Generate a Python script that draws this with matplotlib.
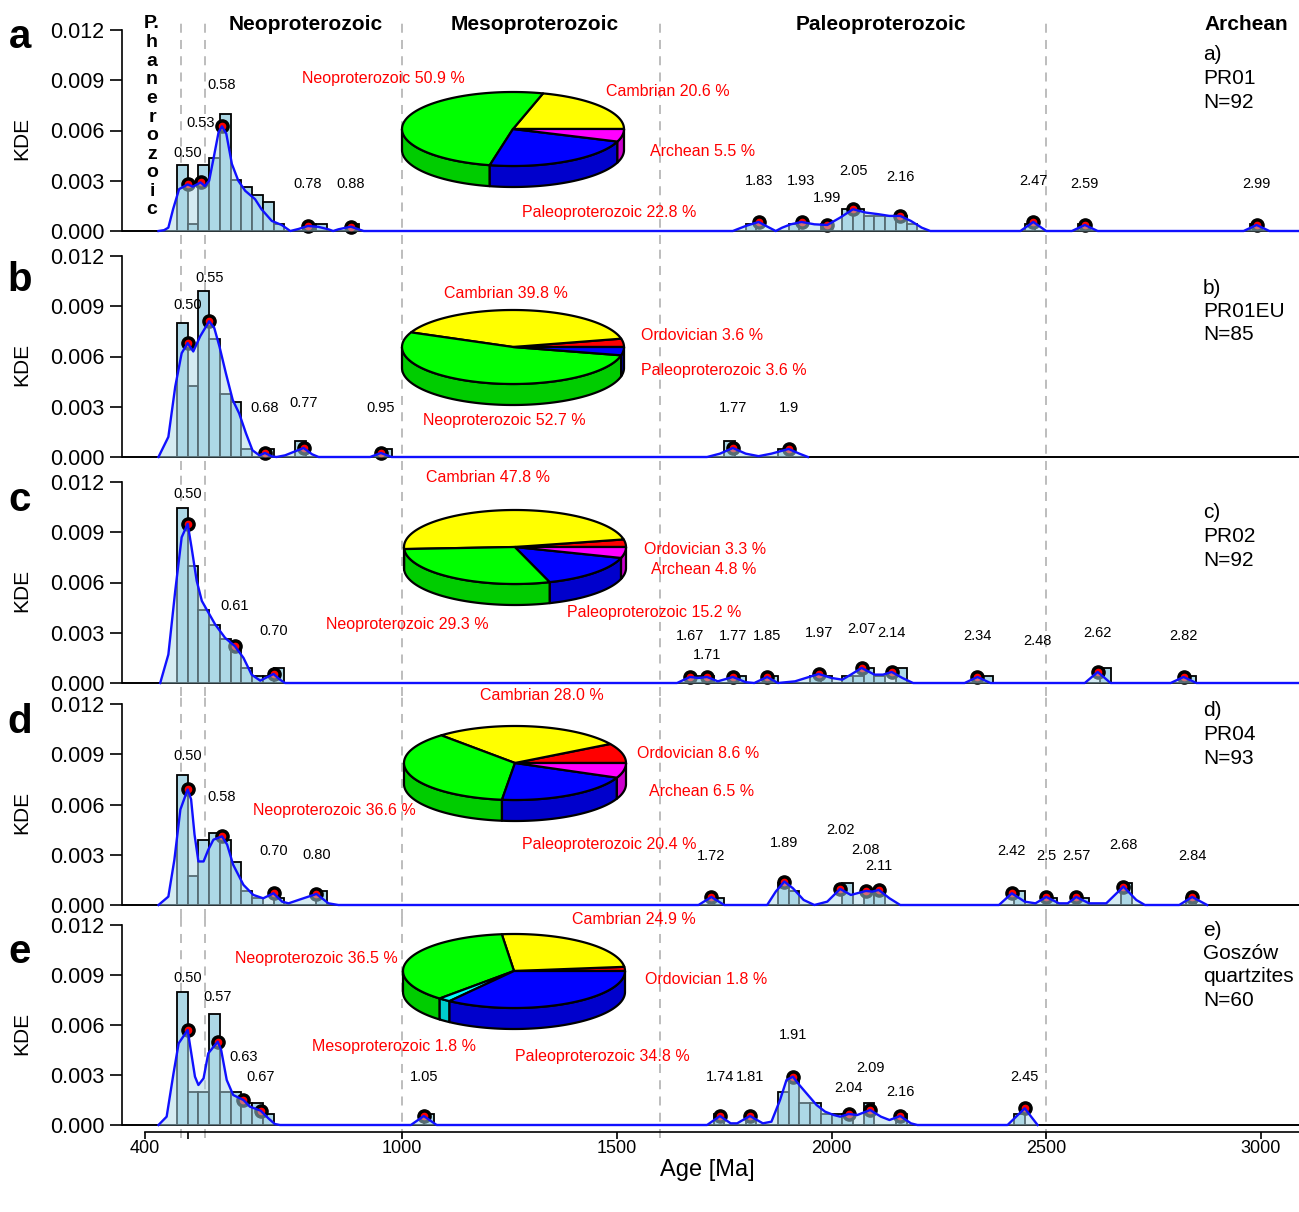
import numpy as np
import matplotlib.pyplot as plt
from matplotlib.patches import Polygon

plt.rcParams['font.family'] = ['Liberation Sans', 'DejaVu Sans']

W, H = 1299, 1212
BW = 25  # histogram bin width (Ma)

# ---------------- panel a : PR01 ----------------
n_a = 92
bins_a = [475, 500, 525, 550, 575, 600, 625, 650, 675, 700, 775, 800, 875,
          1800, 1900, 1975, 2025, 2050, 2075, 2100, 2125, 2150, 2175, 2450, 2575, 2975]
counts_a = [9, 1, 9, 10, 16, 7, 6, 5, 4, 1, 1, 1, 1,
            1, 1, 1, 3, 3, 2, 2, 2, 2, 1, 1, 1, 1]
kde_age_a = [432, 445, 455, 466, 480, 500, 512, 530, 540, 550, 560, 572, 580, 590, 603, 618,
             634, 657, 672, 696, 719, 739, 758, 780, 804, 828, 839, 851, 880, 898, 910,
             1770, 1800, 1830, 1855, 1870, 1885, 1905, 1930, 1960, 1990, 2020, 2050, 2080,
             2110, 2135, 2160, 2185, 2210, 2230, 2440, 2470, 2500, 2560, 2590, 2620,
             2960, 2990, 3020, 3090]
kde_val_a = [0, 0.00005, 0.0002, 0.0013, 0.0025, 0.00278, 0.00265, 0.0029, 0.00268, 0.003,
             0.0043, 0.0059, 0.00625, 0.0058, 0.0040, 0.003, 0.0024, 0.0019, 0.0013, 0.0006,
             0.00036, 0, 0.00012, 0.0003, 0.00025, 0.0001, 0, 0.0001, 0.00026, 0.0001, 0,
             0, 0.0003, 0.00054, 0.0002, 0, 0.0002, 0.0004, 0.00054, 0.0004, 0.00036, 0.0008,
             0.0013, 0.0011, 0.001, 0.0009, 0.0009, 0.0006, 0.0002, 0, 0, 0.00054, 0,
             0, 0.00036, 0, 0, 0.00036, 0, 0]
peak_age_a = [500, 530, 580, 780, 880, 1830, 1930, 1990, 2050, 2160, 2470, 2590, 2990]
peak_kde_a = [0.00278, 0.0029, 0.00625, 0.0003, 0.00026, 0.00054, 0.00054, 0.00036,
              0.0013, 0.0009, 0.00054, 0.00036, 0.00036]
peak_txt_a = ['0.50', '0.53', '0.58', '0.78', '0.88', '1.83', '1.93', '1.99', '2.05',
              '2.16', '2.47', '2.59', '2.99']
peak_lbl_a = [0.00466, 0.00645, 0.0087, 0.0028, 0.0028, 0.003, 0.003, 0.002, 0.0036,
              0.0032, 0.003, 0.0028, 0.0028]
# order: Ordovician, Cambrian, Neoproterozoic, Mesoproterozoic, Paleoproterozoic, Archean
pie_pct_a = [0, 20.6, 50.9, 0, 22.8, 5.5]

# ---------------- panel b : PR01EU ----------------
n_b = 85
bins_b = [475, 500, 525, 550, 575, 600, 625, 675, 750, 950, 1750, 1875]
counts_b = [17, 9, 21, 15, 8, 7, 1, 1, 2, 1, 2, 1]
kde_age_b = [432, 455, 471, 486, 500, 513, 529, 550, 562, 574, 589, 605, 620, 636, 651,
             667, 680, 696, 707, 727, 770, 790, 805, 925, 950, 975,
             1710, 1740, 1770, 1800, 1830, 1860, 1900, 1925, 1945]
kde_val_b = [0, 0.0012, 0.0042, 0.0062, 0.0068, 0.0063, 0.0072, 0.0081, 0.0077, 0.0066,
             0.005, 0.0034, 0.0026, 0.0014, 0.0004, 0.0001, 0.00024, 0.00004, 0, 0.0001,
             0.00054, 0.00016, 0, 0, 0.00024, 0,
             0, 0.0002, 0.00054, 0.0002, 0.00005, 0.0002, 0.00048, 0.0002, 0]
peak_age_b = [500, 550, 680, 770, 950, 1770, 1900]
peak_kde_b = [0.0068, 0.0081, 0.00024, 0.00054, 0.00024, 0.00054, 0.00048]
peak_txt_b = ['0.50', '0.55', '0.68', '0.77', '0.95', '1.77', '1.9']
peak_lbl_b = [0.0091, 0.0107, 0.0029, 0.0032, 0.0029, 0.0029, 0.0029]
pie_pct_b = [3.6, 39.8, 52.7, 0, 3.6, 0]

# ---------------- panel c : PR02 ----------------
n_c = 92
bins_c = [475, 500, 525, 550, 575, 600, 625, 650, 675, 700,
          1675, 1700, 1775, 1850, 1950, 1975, 2025, 2050, 2075, 2100, 2150, 2350, 2625, 2825]
counts_c = [24, 16, 10, 8, 6, 5, 2, 1, 1, 2,
            1, 1, 1, 1, 1, 1, 1, 1, 2, 1, 2, 1, 2, 1]
kde_age_c = [436, 455, 471, 486, 500, 509, 521, 533, 544, 564, 587, 610, 630, 649, 669,
             700, 715, 727,
             1640, 1670, 1690, 1710, 1735, 1770, 1800, 1820, 1850, 1875, 1915, 1940, 1970,
             2000, 2025, 2045, 2070, 2100, 2120, 2140, 2165, 2190, 2310, 2340, 2370,
             2590, 2620, 2650, 2790, 2820, 2850, 3090]
kde_val_c = [0, 0.0017, 0.0055, 0.0087, 0.0095, 0.0081, 0.0061, 0.0049, 0.0044, 0.0035,
             0.0027, 0.0022, 0.0015, 0.0005, 0.00014, 0.00054, 0.0002, 0,
             0, 0.00036, 0.0003, 0.00036, 0.0001, 0.00036, 0.00005, 0, 0.00036, 0, 0.0001,
             0.0003, 0.00054, 0.0003, 0.0002, 0.0005, 0.0009, 0.0005, 0.0005, 0.00066,
             0.0003, 0, 0, 0.00036, 0, 0, 0.00066, 0, 0, 0.00036, 0, 0]
peak_age_c = [500, 610, 700, 1670, 1710, 1770, 1850, 1970, 2070, 2140, 2340, 2480, 2620, 2820]
peak_kde_c = [0.0095, 0.0022, 0.00054, 0.00036, 0.00036, 0.00036, 0.00036, 0.00054,
              0.0009, 0.00066, 0.00036, np.nan, 0.00066, 0.00036]
peak_txt_c = ['0.50', '0.61', '0.70', '1.67', '1.71', '1.77', '1.85', '1.97', '2.07',
              '2.14', '2.34', '2.48', '2.62', '2.82']
peak_lbl_c = [0.0113, 0.0046, 0.0031, 0.0028, 0.0017, 0.0028, 0.0028, 0.003, 0.0032,
              0.003, 0.0028, 0.0025, 0.003, 0.0028]
pie_pct_c = [3.3, 47.8, 29.3, 0, 15.2, 4.8]

# ---------------- panel d : PR04 ----------------
n_d = 93
bins_d = [475, 500, 525, 550, 575, 600, 625, 650, 700, 800,
          1725, 1875, 1900, 2025, 2075, 2100, 2425, 2500, 2575, 2675, 2825]
counts_d = [18, 4, 9, 10, 9, 6, 2, 1, 1, 2,
            1, 3, 2, 3, 2, 2, 2, 1, 1, 3, 1]
kde_age_d = [432, 455, 469, 483, 500, 508, 516, 525, 537, 548, 560, 580, 592, 606, 630,
             653, 676, 700, 720, 735, 758, 800, 828, 851,
             1690, 1720, 1750, 1850, 1870, 1890, 1910, 1935, 1960, 1990, 2020, 2045, 2080,
             2095, 2110, 2135, 2160, 2390, 2420, 2450, 2475, 2500, 2530, 2550, 2570, 2600,
             2640, 2680, 2710, 2730, 2810, 2840, 2875]
kde_val_d = [0, 0.0005, 0.0027, 0.0057, 0.0069, 0.0063, 0.0042, 0.0026, 0.0026, 0.0033,
             0.0039, 0.0041, 0.0036, 0.0024, 0.0012, 0.0006, 0.0004, 0.0007, 0.0002, 0.0001,
             0.0003, 0.00066, 0.0001, 0,
             0, 0.00048, 0, 0, 0.0008, 0.0014, 0.001, 0.0003, 0, 0.0002, 0.00096, 0.0006,
             0.00084, 0.0008, 0.0009, 0.0004, 0, 0, 0.0007, 0.0002, 0.0001, 0.00048, 0.0001,
             0.0001, 0.00048, 0.0001, 0.0001, 0.0011, 0.0003, 0, 0, 0.00048, 0]
peak_age_d = [500, 580, 700, 800, 1720, 1890, 2020, 2080, 2110, 2420, 2500, 2570, 2680, 2840]
peak_kde_d = [0.0069, 0.0041, 0.0007, 0.00066, 0.00048, 0.0014, 0.00096, 0.00084, 0.0009,
              0.0007, 0.00048, 0.00048, 0.0011, 0.00048]
peak_txt_d = ['0.50', '0.58', '0.70', '0.80', '1.72', '1.89', '2.02', '2.08', '2.11',
              '2.42', '2.5', '2.57', '2.68', '2.84']
peak_lbl_d = [0.0089, 0.00645, 0.0032, 0.003, 0.0029, 0.0037, 0.0045, 0.0033, 0.0023,
              0.0032, 0.0029, 0.0029, 0.0036, 0.0029]
pie_pct_d = [8.6, 28.0, 36.6, 0, 20.4, 6.5]

# ---------------- panel e : Goszów quartzites ----------------
n_e = 60
bins_e = [475, 500, 525, 550, 575, 600, 625, 650, 675, 1050,
          1725, 1800, 1875, 1900, 1925, 1950, 1975, 2000, 2025, 2075, 2150, 2425]
counts_e = [12, 3, 3, 10, 3, 3, 2, 2, 1, 1,
            1, 1, 3, 4, 2, 2, 1, 1, 1, 2, 1, 1]
kde_age_e = [432, 451, 467, 479, 500, 506, 517, 525, 537, 548, 570, 578, 591, 606, 630,
             645, 670, 688, 703, 715,
             1020, 1050, 1080,
             1710, 1740, 1765, 1780, 1810, 1840, 1860, 1880, 1895, 1910, 1925, 1945, 1965,
             1985, 2005, 2020, 2040, 2060, 2090, 2115, 2135, 2160, 2185, 2200,
             2410, 2450, 2480]
kde_val_e = [0, 0.0005, 0.0031, 0.0049, 0.0057, 0.0047, 0.0029, 0.0024, 0.0028, 0.0043,
             0.005, 0.0045, 0.0027, 0.0018, 0.0015, 0.0011, 0.00086, 0.0004, 0.00006, 0,
             0, 0.00054, 0,
             0, 0.00054, 0.0001, 0.0001, 0.00054, 0.0001, 0.0002, 0.0015, 0.0027, 0.0029,
             0.0024, 0.0018, 0.0012, 0.0008, 0.0006, 0.0005, 0.00066, 0.0006, 0.0009, 0.0005,
             0.0003, 0.00054, 0.0001, 0,
             0, 0.001, 0]
peak_age_e = [500, 570, 630, 670, 1050, 1740, 1810, 1910, 2040, 2090, 2160, 2450]
peak_kde_e = [0.0057, 0.005, 0.0015, 0.00086, 0.00054, 0.00054, 0.00054, 0.0029, 0.00066,
              0.0009, 0.00054, 0.001]
peak_txt_e = ['0.50', '0.57', '0.63', '0.67', '1.05', '1.74', '1.81', '1.91', '2.04',
              '2.09', '2.16', '2.45']
peak_lbl_e = [0.0088, 0.0077, 0.0041, 0.0029, 0.0029, 0.0029, 0.0029, 0.0054, 0.0022,
              0.0034, 0.002, 0.0029]
pie_pct_e = [1.8, 24.9, 36.5, 1.8, 34.8, 0]

pie_names = ['Ordovician', 'Cambrian', 'Neoproterozoic', 'Mesoproterozoic',
             'Paleoproterozoic', 'Archean']
pie_colors = ['#FF0000', '#FFFF00', '#00FF00', '#00FFFF', '#0000FF', '#FF00FF']
pie_shade = ['#CC0000', '#CCCC00', '#00CC00', '#00CCCC', '#0000CC', '#CC00CC']

boundaries = [485, 541, 1000, 1600, 2500]
sample_txt = [['a)', 'PR01', 'N=92'], ['b)', 'PR01EU', 'N=85'], ['c)', 'PR02', 'N=92'],
              ['d)', 'PR04', 'N=93'], ['e)', 'Goszów', 'quartzites', 'N=60']]

panels = [
    (n_a, bins_a, counts_a, kde_age_a, kde_val_a, peak_age_a, peak_kde_a, peak_txt_a, peak_lbl_a),
    (n_b, bins_b, counts_b, kde_age_b, kde_val_b, peak_age_b, peak_kde_b, peak_txt_b, peak_lbl_b),
    (n_c, bins_c, counts_c, kde_age_c, kde_val_c, peak_age_c, peak_kde_c, peak_txt_c, peak_lbl_c),
    (n_d, bins_d, counts_d, kde_age_d, kde_val_d, peak_age_d, peak_kde_d, peak_txt_d, peak_lbl_d),
    (n_e, bins_e, counts_e, kde_age_e, kde_val_e, peak_age_e, peak_kde_e, peak_txt_e, peak_lbl_e),
]
pies = [pie_pct_a, pie_pct_b, pie_pct_c, pie_pct_d, pie_pct_e]

# layout (pixels)
panel_px = [(30, 231), (256, 457), (482, 683), (704, 905), (925, 1125)]
pie_center = [(513, 129), (513, 347), (515, 547), (515, 763), (514, 971)]
pie_lbl_pos = [
    {'Neoproterozoic': (383, 79), 'Cambrian': (668, 91), 'Archean': (703, 151),
     'Paleoproterozoic': (609, 213)},
    {'Cambrian': (506, 294), 'Ordovician': (702, 336), 'Paleoproterozoic': (724, 371),
     'Neoproterozoic': (504, 420)},
    {'Cambrian': (488, 477), 'Ordovician': (705, 549), 'Archean': (704, 569),
     'Paleoproterozoic': (654, 613), 'Neoproterozoic': (407, 625)},
    {'Cambrian': (542, 695), 'Ordovician': (698, 753), 'Archean': (702, 791),
     'Neoproterozoic': (334, 810), 'Paleoproterozoic': (609, 845)},
    {'Cambrian': (634, 920), 'Neoproterozoic': (316, 959), 'Ordovician': (706, 979),
     'Mesoproterozoic': (394, 1047), 'Paleoproterozoic': (602, 1056)},
]
letters = ['a', 'b', 'c', 'd', 'e']
letter_y = [37, 280, 500, 722, 952]
sample_y = [55, 288, 513, 711, 930]

X0 = 122
xlim = (347, 3089)
PAD = 12.5

fig = plt.figure(figsize=(W / 100, H / 100), dpi=100)

for i, (p, (T, Z)) in enumerate(zip(panels, panel_px)):
    n, bins, counts, kx, ky, pk_x, pk_y, pk_t, pk_l = p
    k = (Z - T) / 0.012
    ax = fig.add_axes([X0 / W, 1 - (Z + PAD) / H, (W - X0) / W, (Z - T + 2 * PAD) / H])
    ax.patch.set_alpha(0)
    ax.set_xlim(*xlim)
    ax.set_ylim(-PAD / k, 0.012 + PAD / k)

    for b in boundaries:
        ax.axvline(b, color='#b8b8b8', lw=1.3, dashes=(5, 4), zorder=0)
    ax.axhline(0, color='black', lw=1.4, zorder=1)

    heights = np.array(counts) / (n * BW)
    ax.bar(bins, heights, width=BW, align='edge', color='#ADD8E6',
           edgecolor='black', linewidth=1.3, zorder=2)
    ax.plot(pk_x, pk_y, 'o', ms=9.5, mfc='black', mec='black', zorder=3)
    ax.plot(pk_x, pk_y, 'o', ms=4.5, mfc='red', mec='red', zorder=3.1)
    ax.fill_between(kx, 0, ky, color='#ADD8E6', alpha=0.5, lw=0, zorder=4)
    ax.plot(kx, ky, color='#1010FF', lw=1.7, zorder=5)
    for x, y, t in zip(pk_x, pk_l, pk_t):
        ax.text(x, y, t, ha='center', va='center', fontsize=10.5, zorder=6)

    ax.spines['top'].set_visible(False)
    ax.spines['right'].set_visible(False)
    ax.spines['left'].set_bounds(0, 0.012)
    ax.spines['left'].set_linewidth(1.2)
    ax.set_yticks([0, 0.003, 0.006, 0.009, 0.012])
    ax.set_yticklabels(['0.000', '0.003', '0.006', '0.009', '0.012'])
    ax.tick_params(axis='y', length=8.5, width=1.2, labelsize=15.5, pad=4)
    if i < 4:
        ax.spines['bottom'].set_visible(False)
        ax.set_xticks([])
    else:
        ax.spines['bottom'].set_position(('data', -7 / k))
        ax.spines['bottom'].set_bounds(400, xlim[1])
        ax.spines['bottom'].set_linewidth(1.2)
        ax.set_xticks([400, 500, 1000, 1500, 2000, 2500, 3000])
        ax.set_xticklabels(['400', '', '1000', '1500', '2000', '2500', '3000'])
        ax.tick_params(axis='x', length=5, width=1.2, labelsize=13, pad=1)

# overlay in pixel coordinates for pies and annotations
ov = fig.add_axes([0, 0, 1, 1], zorder=10)
ov.set_xlim(0, W)
ov.set_ylim(H, 0)
ov.axis('off')
ov.patch.set_alpha(0)


def pie3d(axis, cx, cy, pcts, a=111, b=37, depth=21):
    total = sum(pcts)
    edges = np.concatenate([[0], np.cumsum(pcts) / total * 360])
    # side walls (front half only)
    for j in range(len(pcts)):
        s1, s2 = max(edges[j], 180), min(edges[j + 1], 360)
        if pcts[j] == 0 or s1 >= s2:
            continue
        th = np.radians(np.linspace(s1, s2, 80))
        top = np.column_stack([cx + a * np.cos(th), cy - b * np.sin(th)])
        bot = top[::-1] + [0, depth]
        axis.add_patch(Polygon(np.vstack([top, bot]), closed=True, fc=pie_shade[j],
                               ec='black', lw=1.6, joinstyle='round'))
    # top face
    for j in range(len(pcts)):
        if pcts[j] == 0:
            continue
        th = np.radians(np.linspace(edges[j], edges[j + 1], 120))
        arc = np.column_stack([cx + a * np.cos(th), cy - b * np.sin(th)])
        axis.add_patch(Polygon(np.vstack([[cx, cy], arc]), closed=True, fc=pie_colors[j],
                               ec='black', lw=1.6, joinstyle='round'))


for i in range(5):
    cx, cy = pie_center[i]
    pie3d(ov, cx, cy, pies[i])
    for name, pct in zip(pie_names, pies[i]):
        if pct > 0:
            lx, ly = pie_lbl_pos[i][name]
            ov.text(lx, ly, f'{name} {pct:.1f} %', color='red', fontsize=11.5,
                    ha='center', va='center')
    T, Z = panel_px[i]
    ov.text(22, (T + Z) / 2 + 8, 'KDE', rotation=90, ha='center', va='center', fontsize=15)
    ov.text(20, letter_y[i], letters[i], fontsize=29, fontweight='bold',
            ha='center', va='center')
    for j, line in enumerate(sample_txt[i]):
        ov.text(1203, sample_y[i] + 23.5 * j, line, fontsize=15, ha='left', va='center')

# era headings
ov.text(306, 24, 'Neoproterozoic', fontsize=15, fontweight='bold', ha='center', va='center')
ov.text(535, 24, 'Mesoproterozoic', fontsize=15, fontweight='bold', ha='center', va='center')
ov.text(881, 24, 'Paleoproterozoic', fontsize=15, fontweight='bold', ha='center', va='center')
ov.text(1246, 24, 'Archean', fontsize=15, fontweight='bold', ha='center', va='center')
for j, ch in enumerate(['P.', 'h', 'a', 'n', 'e', 'r', 'o', 'z', 'o', 'i', 'c']):
    ov.text(152, 24 + 18.6 * j, ch, fontsize=14, fontweight='bold', ha='center', va='center')

ov.text(707, 1170, 'Age [Ma]', fontsize=17, ha='center', va='center')

fig.savefig('out.png', dpi=100)
